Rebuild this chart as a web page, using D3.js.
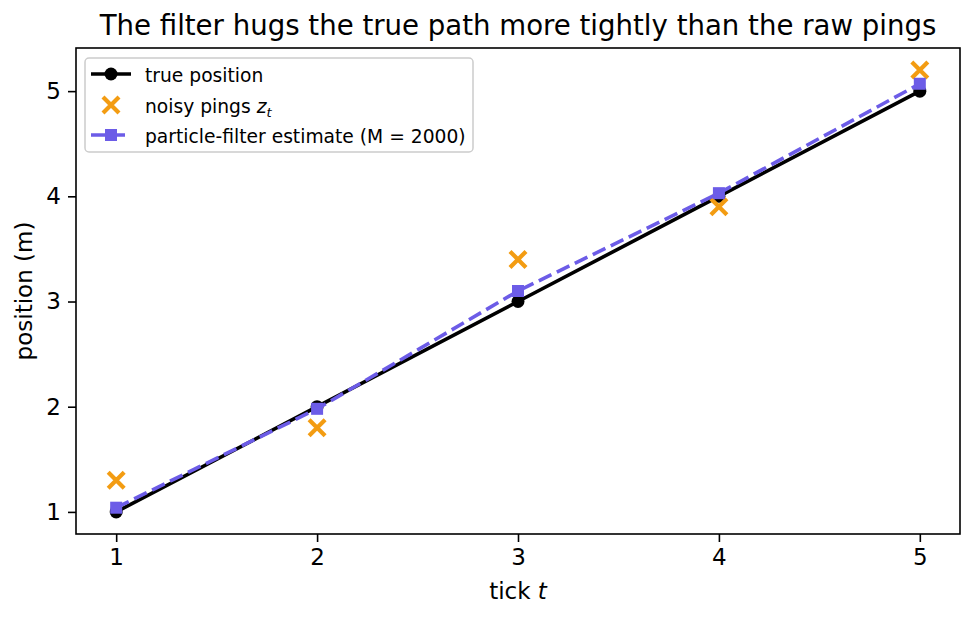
<!DOCTYPE html>
<html><head><meta charset="utf-8">
<script src="https://cdn.jsdelivr.net/npm/d3@7"></script>
<style>body{margin:0;background:#fff;} text{font-family:"DejaVu Sans",sans-serif;}</style>
</head><body>
<svg id="chart" width="974" height="618"></svg>
<script>
const ticks = [1, 2, 3, 4, 5];
const truePos = [1, 2, 3, 4, 5];
const pings = [1.3, 1.8, 3.4, 3.9, 5.2];
const estimate = [1.04, 1.98, 3.1, 4.03, 5.07];
const yTicks = [1, 2, 3, 4, 5];
const title = "The filter hugs the true path more tightly than the raw pings";

const svg = d3.select("#chart");
const L = 76, R = 960, T = 48, B = 534;
const x = d3.scaleLinear().domain([0.8, 5.2]).range([L, R]);
const y = d3.scaleLinear().domain([0.79, 5.41]).range([B, T]);
const orange = "#f39c12", purple = "#6c5ce7";
const LW = 3.6;

// lines
const line = d3.line().x((d, i) => x(ticks[i])).y(d => y(d));
svg.append("path").datum(truePos).attr("d", line).attr("fill", "none").attr("stroke", "#000").attr("stroke-width", LW);
svg.selectAll("circle.t").data(truePos).join("circle").attr("cx", (d, i) => x(ticks[i])).attr("cy", d => y(d)).attr("r", 6.5).attr("fill", "#000");

// pings
const X = (g, cx, cy, s) => {
  g.append("path").attr("d", `M${cx - s},${cy - s}L${cx + s},${cy + s}M${cx - s},${cy + s}L${cx + s},${cy - s}`)
    .attr("stroke", orange).attr("stroke-width", 4.2).attr("fill", "none");
};
const pg = svg.append("g");
pings.forEach((d, i) => X(pg, x(ticks[i]), y(d), 8));

// estimate
svg.append("path").datum(estimate).attr("d", line).attr("fill", "none").attr("stroke", purple).attr("stroke-width", LW).attr("stroke-dasharray", "14,6");
svg.selectAll("rect.e").data(estimate).join("rect").attr("x", (d, i) => x(ticks[i]) - 6).attr("y", d => y(d) - 6).attr("width", 12).attr("height", 12).attr("fill", purple);

// axes
const xa = svg.append("g").attr("transform", `translate(0,${B})`).call(d3.axisBottom(x).tickValues(ticks).tickFormat(d3.format("d")).tickSize(8).tickPadding(7));
const ya = svg.append("g").attr("transform", `translate(${L},0)`).call(d3.axisLeft(y).tickValues(yTicks).tickFormat(d3.format("d")).tickSize(8).tickPadding(7));
[xa, ya].forEach(a => { a.select(".domain").remove(); a.selectAll("text").attr("font-size", 23).attr("font-family", "DejaVu Sans").attr("fill", "#000"); a.selectAll("line").attr("stroke", "#000").attr("stroke-width", 1.6); });
svg.append("rect").attr("x", L).attr("y", T).attr("width", R - L).attr("height", B - T).attr("fill", "none").attr("stroke", "#000").attr("stroke-width", 1.6);

// labels
svg.append("text").attr("x", (L + R) / 2).attr("y", 35).attr("text-anchor", "middle").attr("font-size", 27.6).text(title);
const xl = svg.append("text").attr("x", (L + R) / 2).attr("y", 599).attr("text-anchor", "middle").attr("font-size", 23);
xl.append("tspan").text("tick ");
xl.append("tspan").attr("font-style", "italic").text("t");
svg.append("text").attr("transform", `translate(32,${(T + B) / 2}) rotate(-90)`).attr("text-anchor", "middle").attr("font-size", 23).text("position (m)");

// legend
const lg = svg.append("g");
lg.append("rect").attr("x", 85).attr("y", 58).attr("width", 388).attr("height", 94).attr("rx", 4).attr("fill", "#fff").attr("fill-opacity", 0.8).attr("stroke", "#ccc").attr("stroke-width", 1.5);
const rows = [74, 105, 135];
lg.append("line").attr("x1", 91).attr("x2", 131).attr("y1", rows[0]).attr("y2", rows[0]).attr("stroke", "#000").attr("stroke-width", LW);
lg.append("circle").attr("cx", 111).attr("cy", rows[0]).attr("r", 6.5).attr("fill", "#000");
X(lg, 111, rows[1], 8);
lg.append("line").attr("x1", 91).attr("x2", 131).attr("y1", rows[2]).attr("y2", rows[2]).attr("stroke", purple).attr("stroke-width", LW).attr("stroke-dasharray", "14,6");
lg.append("rect").attr("x", 105).attr("y", rows[2] - 6).attr("width", 12).attr("height", 12).attr("fill", purple);
const lt = (yy) => lg.append("text").attr("x", 145).attr("y", yy + 7.5).attr("font-size", 18.7);
lt(rows[0]).text("true position");
const t2 = lt(rows[1]);
t2.append("tspan").text("noisy pings ");
t2.append("tspan").attr("font-style", "italic").text("z");
t2.append("tspan").attr("font-style", "italic").attr("font-size", 13).attr("dy", 4).text("t");
lt(rows[2]).text("particle-filter estimate (M = 2000)");
</script>
</body></html>
